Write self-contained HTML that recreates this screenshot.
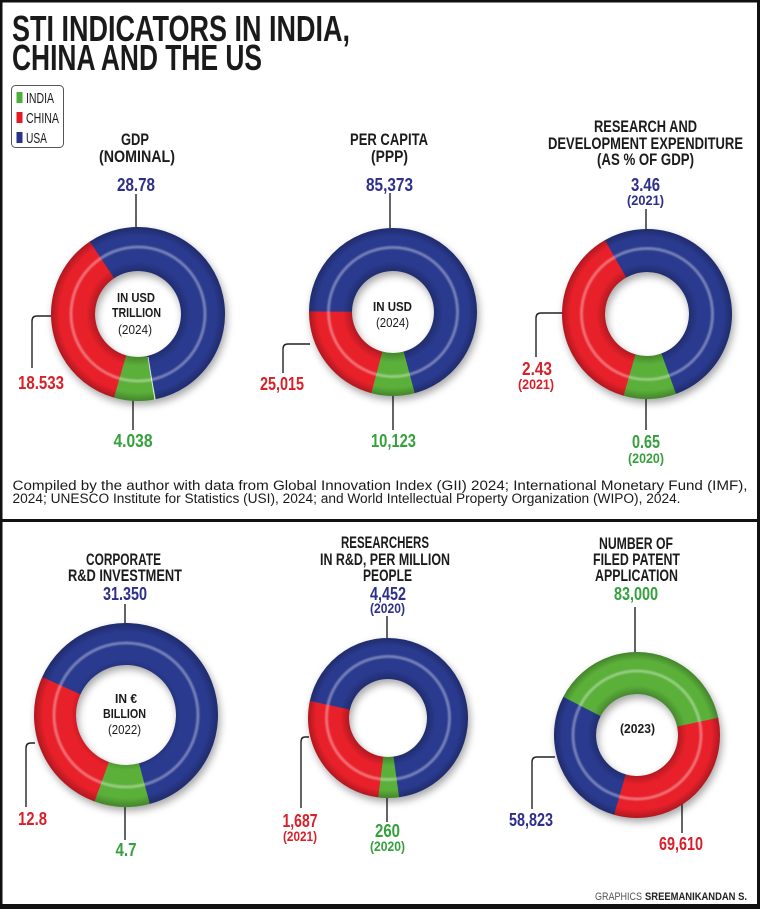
<!DOCTYPE html>
<html>
<head>
<meta charset="utf-8">
<style>
  html,body{margin:0;padding:0;background:#fff;}
  svg{display:block;}
  text{font-family:"Liberation Sans",Arial,sans-serif;}
  .t{font-weight:bold;font-size:16.5px;fill:#1b1b1b;}
  .v{font-weight:bold;font-size:18px;}
  .y{font-weight:bold;font-size:13.5px;}
  .b{fill:#2e2f8a;} .r{fill:#d91f28;} .g{fill:#35a03c;}
  .ln{fill:none;stroke:#222;stroke-width:1.4;}
</style>
</head>
<body>
<svg width="760" height="909" viewBox="0 0 760 909" xmlns="http://www.w3.org/2000/svg">
  <defs>
    <filter id="blur" x="-30%" y="-30%" width="160%" height="160%"><feGaussianBlur stdDeviation="4"/></filter>
    <filter id="hb" x="-10%" y="-10%" width="120%" height="120%"><feGaussianBlur stdDeviation="0.9"/></filter>
    <radialGradient id="shade" cx="0.5" cy="0.5" r="0.5">
      <stop offset="0.48" stop-color="#000" stop-opacity="0.25"/>
      <stop offset="0.60" stop-color="#000" stop-opacity="0"/>
      <stop offset="0.90" stop-color="#000" stop-opacity="0"/>
      <stop offset="1" stop-color="#000" stop-opacity="0.25"/>
    </radialGradient>
  </defs>

  <rect x="0" y="0" width="760" height="909" fill="#fff"/>

  <!-- Title -->
  <text x="12" y="41" font-size="36" font-weight="bold" fill="#1a1a1a" textLength="338" lengthAdjust="spacingAndGlyphs">STI INDICATORS IN INDIA,</text>
  <text x="12" y="70" font-size="36" font-weight="bold" fill="#1a1a1a" textLength="250" lengthAdjust="spacingAndGlyphs">CHINA AND THE US</text>

  <!-- Legend -->
  <rect x="11.5" y="85.5" width="52" height="62" rx="4" fill="#fff" stroke="#555" stroke-width="1"/>
  <rect x="16.5" y="92" width="6" height="11" fill="#4caf3a"/>
  <rect x="16.5" y="112" width="6" height="11" fill="#e31b23"/>
  <rect x="16.5" y="132" width="6" height="11" fill="#26348b"/>
  <text x="26" y="103" font-size="15" fill="#1a1a1a" textLength="28" lengthAdjust="spacingAndGlyphs">INDIA</text>
  <text x="26" y="123" font-size="15" fill="#1a1a1a" textLength="33" lengthAdjust="spacingAndGlyphs">CHINA</text>
  <text x="26" y="143" font-size="15" fill="#1a1a1a" textLength="21" lengthAdjust="spacingAndGlyphs">USA</text>

  <!-- Top titles -->
  <g text-anchor="middle">
    <text class="t" x="135" y="145" textLength="28" lengthAdjust="spacingAndGlyphs">GDP</text>
    <text class="t" x="137" y="162" textLength="76" lengthAdjust="spacingAndGlyphs">(NOMINAL)</text>
    <text class="t" x="389" y="145" textLength="78" lengthAdjust="spacingAndGlyphs">PER CAPITA</text>
    <text class="t" x="389.5" y="162" textLength="37" lengthAdjust="spacingAndGlyphs">(PPP)</text>
    <text class="t" x="645.5" y="132" textLength="103" lengthAdjust="spacingAndGlyphs">RESEARCH AND</text>
    <text class="t" x="645.5" y="149" textLength="195" lengthAdjust="spacingAndGlyphs">DEVELOPMENT EXPENDITURE</text>
    <text class="t" x="645.5" y="165" textLength="97" lengthAdjust="spacingAndGlyphs">(AS % OF GDP)</text>

    <!-- top values -->
    <text class="v b" x="136" y="191" textLength="38" lengthAdjust="spacingAndGlyphs">28.78</text>
    <text class="v b" x="389.5" y="191" textLength="47" lengthAdjust="spacingAndGlyphs">85,373</text>
    <text class="v b" x="645.5" y="191" textLength="29" lengthAdjust="spacingAndGlyphs">3.46</text>
    <text class="y b" x="645.5" y="205" textLength="37" lengthAdjust="spacingAndGlyphs">(2021)</text>

    <!-- left values -->
    <text class="v r" x="41" y="389" textLength="46" lengthAdjust="spacingAndGlyphs">18.533</text>
    <text class="v r" x="282" y="390" textLength="44" lengthAdjust="spacingAndGlyphs">25,015</text>
    <text class="v r" x="537" y="375" textLength="30" lengthAdjust="spacingAndGlyphs">2.43</text>
    <text class="y r" x="536" y="389" textLength="36" lengthAdjust="spacingAndGlyphs">(2021)</text>

    <!-- bottom values -->
    <text class="v g" x="133" y="447" textLength="39" lengthAdjust="spacingAndGlyphs">4.038</text>
    <text class="v g" x="393.5" y="447" textLength="45" lengthAdjust="spacingAndGlyphs">10,123</text>
    <text class="v g" x="646" y="448" textLength="28" lengthAdjust="spacingAndGlyphs">0.65</text>
    <text class="y g" x="646" y="463" textLength="36" lengthAdjust="spacingAndGlyphs">(2020)</text>
  </g>

  <!-- connectors top -->
  <path class="ln" d="M136,194 V227"/>
  <path class="ln" d="M390,193 V228"/>
  <path class="ln" d="M646,209 V230"/>
  <path class="ln" d="M51,316 H37 Q32,316 32,321 V368"/>
  <path class="ln" d="M310,344 H288 Q283,344 283,349 V373"/>
  <path class="ln" d="M563,313 H541 Q536,313 536,318 V357"/>
  <path class="ln" d="M133,400 V430"/>
  <path class="ln" d="M393,396 V430"/>
  <path class="ln" d="M646,398 V430"/>

  <!-- Donut 1 GDP -->
  <g>
    <circle cx="140" cy="318" r="65" fill="none" stroke="#000" stroke-opacity="0.35" stroke-width="44" filter="url(#blur)"/>
    <circle cx="138" cy="314" r="65" fill="none" stroke="#2a3a8f" stroke-width="44" pathLength="360" stroke-dasharray="202.5 360" transform="rotate(236 138 314)"/>
    <circle cx="138" cy="314" r="65" fill="none" stroke="#5bb03a" stroke-width="44" pathLength="360" stroke-dasharray="28.5 360" transform="rotate(78 138 314)"/>
    <circle cx="138" cy="314" r="65" fill="none" stroke="#e8202a" stroke-width="44" pathLength="360" stroke-dasharray="130.5 360" transform="rotate(106 138 314)"/>
    <path d="M51,314 a87,87 0 1,0 174,0 a87,87 0 1,0 -174,0Z M95,314 a43,43 0 1,0 86,0 a43,43 0 1,0 -86,0Z" fill="url(#shade)" fill-rule="evenodd"/>
    <circle cx="138" cy="314" r="67" fill="none" stroke="#fff" stroke-opacity="0.35" stroke-width="3" filter="url(#hb)"/>
    <line x1="148" y1="357" x2="155" y2="400" stroke="#fff" stroke-width="1" stroke-opacity="0.8"/>
    <g text-anchor="middle">
      <text x="136" y="302" font-size="13" font-weight="bold" fill="#1a1a1a" textLength="38" lengthAdjust="spacingAndGlyphs">IN USD</text>
      <text x="136.5" y="317" font-size="13" font-weight="bold" fill="#1a1a1a" textLength="49" lengthAdjust="spacingAndGlyphs">TRILLION</text>
      <text x="135" y="334" font-size="13" fill="#1a1a1a" textLength="34" lengthAdjust="spacingAndGlyphs">(2024)</text>
    </g>
  </g>

  <!-- Donut 2 Per capita -->
  <g>
    <circle cx="395" cy="316" r="62.5" fill="none" stroke="#000" stroke-opacity="0.35" stroke-width="43" filter="url(#blur)"/>
    <circle cx="393" cy="312" r="62.5" fill="none" stroke="#2a3a8f" stroke-width="43" pathLength="360" stroke-dasharray="255.5 360" transform="rotate(180 393 312)"/>
    <circle cx="393" cy="312" r="62.5" fill="none" stroke="#5bb03a" stroke-width="43" pathLength="360" stroke-dasharray="30.5 360" transform="rotate(75 393 312)"/>
    <circle cx="393" cy="312" r="62.5" fill="none" stroke="#e8202a" stroke-width="43" pathLength="360" stroke-dasharray="75.5 360" transform="rotate(105 393 312)"/>
    <path d="M309,312 a84,84 0 1,0 168,0 a84,84 0 1,0 -168,0Z M352,312 a41,41 0 1,0 82,0 a41,41 0 1,0 -82,0Z" fill="url(#shade)" fill-rule="evenodd"/>
    <circle cx="393" cy="312" r="64.5" fill="none" stroke="#fff" stroke-opacity="0.35" stroke-width="3" filter="url(#hb)"/>
    <g text-anchor="middle">
      <text x="392.5" y="311" font-size="13" font-weight="bold" fill="#1a1a1a" textLength="39" lengthAdjust="spacingAndGlyphs">IN USD</text>
      <text x="392.5" y="327" font-size="13" fill="#1a1a1a" textLength="33" lengthAdjust="spacingAndGlyphs">(2024)</text>
    </g>
  </g>

  <!-- Donut 3 R&D -->
  <g>
    <circle cx="649" cy="318" r="63.5" fill="none" stroke="#000" stroke-opacity="0.35" stroke-width="43" filter="url(#blur)"/>
    <circle cx="647" cy="314" r="63.5" fill="none" stroke="#2a3a8f" stroke-width="43" pathLength="360" stroke-dasharray="190.5 360" transform="rotate(240 647 314)"/>
    <circle cx="647" cy="314" r="63.5" fill="none" stroke="#5bb03a" stroke-width="43" pathLength="360" stroke-dasharray="36.5 360" transform="rotate(70 647 314)"/>
    <circle cx="647" cy="314" r="63.5" fill="none" stroke="#e8202a" stroke-width="43" pathLength="360" stroke-dasharray="134.5 360" transform="rotate(106 647 314)"/>
    <path d="M562,314 a85,85 0 1,0 170,0 a85,85 0 1,0 -170,0Z M605,314 a42,42 0 1,0 84,0 a42,42 0 1,0 -84,0Z" fill="url(#shade)" fill-rule="evenodd"/>
    <circle cx="647" cy="314" r="65.5" fill="none" stroke="#fff" stroke-opacity="0.35" stroke-width="3" filter="url(#hb)"/>
  </g>

  <!-- Footnote -->
  <text x="12.5" y="490" font-size="13.5" fill="#1a1a1a" textLength="735" lengthAdjust="spacingAndGlyphs">Compiled by the author with data from Global Innovation Index (GII) 2024; International Monetary Fund (IMF),</text>
  <text x="12.5" y="503" font-size="13.5" fill="#1a1a1a" textLength="668" lengthAdjust="spacingAndGlyphs">2024; UNESCO Institute for Statistics (USI), 2024; and World Intellectual Property Organization (WIPO), 2024.</text>

  <!-- Divider -->
  <rect x="0" y="519" width="760" height="3" fill="#111"/>

  <!-- Bottom titles -->
  <g text-anchor="middle">
    <text class="t" x="123.5" y="565" textLength="75" lengthAdjust="spacingAndGlyphs">CORPORATE</text>
    <text class="t" x="125" y="581" textLength="114" lengthAdjust="spacingAndGlyphs">R&amp;D INVESTMENT</text>
    <text class="t" x="385" y="548" textLength="88" lengthAdjust="spacingAndGlyphs">RESEARCHERS</text>
    <text class="t" x="385" y="565" textLength="130" lengthAdjust="spacingAndGlyphs">IN R&amp;D, PER MILLION</text>
    <text class="t" x="387.5" y="581" textLength="49" lengthAdjust="spacingAndGlyphs">PEOPLE</text>
    <text class="t" x="636" y="549" textLength="74" lengthAdjust="spacingAndGlyphs">NUMBER OF</text>
    <text class="t" x="636.5" y="565" textLength="87" lengthAdjust="spacingAndGlyphs">FILED PATENT</text>
    <text class="t" x="636.5" y="581" textLength="83" lengthAdjust="spacingAndGlyphs">APPLICATION</text>

    <text class="v b" x="125" y="600" textLength="44" lengthAdjust="spacingAndGlyphs">31.350</text>
    <text class="v b" x="388" y="600" textLength="36" lengthAdjust="spacingAndGlyphs">4,452</text>
    <text class="y b" x="387.5" y="613" textLength="35" lengthAdjust="spacingAndGlyphs">(2020)</text>
    <text class="v g" x="636" y="600" textLength="44" lengthAdjust="spacingAndGlyphs">83,000</text>

    <text class="v r" x="32.5" y="825" textLength="29" lengthAdjust="spacingAndGlyphs">12.8</text>
    <text class="v g" x="126" y="856" textLength="21" lengthAdjust="spacingAndGlyphs">4.7</text>
    <text class="v r" x="300" y="827" textLength="35" lengthAdjust="spacingAndGlyphs">1,687</text>
    <text class="y r" x="300" y="841" textLength="34" lengthAdjust="spacingAndGlyphs">(2021)</text>
    <text class="v g" x="387.5" y="837" textLength="25" lengthAdjust="spacingAndGlyphs">260</text>
    <text class="y g" x="387.5" y="851" textLength="35" lengthAdjust="spacingAndGlyphs">(2020)</text>
    <text class="v b" x="531" y="826" textLength="44" lengthAdjust="spacingAndGlyphs">58,823</text>
    <text class="v r" x="681" y="850" textLength="44" lengthAdjust="spacingAndGlyphs">69,610</text>
  </g>

  <!-- bottom connectors -->
  <path class="ln" d="M125,604 V623"/>
  <path class="ln" d="M387,616 V638"/>
  <path class="ln" d="M635,607 V652"/>
  <path class="ln" d="M35,743 H31 Q26,743 26,748 V807"/>
  <path class="ln" d="M309,737 H305 Q301,737 301,742 V808"/>
  <path class="ln" d="M555,757 H537 Q532,757 532,762 V809"/>
  <path class="ln" d="M125,807 V840"/>
  <path class="ln" d="M387,798 V822"/>
  <path class="ln" d="M682,803 V833"/>

  <!-- Donut 4 Corporate -->
  <g>
    <circle cx="128" cy="719" r="71" fill="none" stroke="#000" stroke-opacity="0.35" stroke-width="42" filter="url(#blur)"/>
    <circle cx="126" cy="715" r="71" fill="none" stroke="#2a3a8f" stroke-width="42" pathLength="360" stroke-dasharray="231.5 360" transform="rotate(204 126 715)"/>
    <circle cx="126" cy="715" r="71" fill="none" stroke="#5bb03a" stroke-width="42" pathLength="360" stroke-dasharray="35.5 360" transform="rotate(75 126 715)"/>
    <circle cx="126" cy="715" r="71" fill="none" stroke="#e8202a" stroke-width="42" pathLength="360" stroke-dasharray="94.5 360" transform="rotate(110 126 715)"/>
    <path d="M34,715 a92,92 0 1,0 184,0 a92,92 0 1,0 -184,0Z M76,715 a50,50 0 1,0 100,0 a50,50 0 1,0 -100,0Z" fill="url(#shade)" fill-rule="evenodd"/>
    <circle cx="126" cy="715" r="72" fill="none" stroke="#fff" stroke-opacity="0.35" stroke-width="3" filter="url(#hb)"/>
    <g text-anchor="middle">
      <text x="126" y="703" font-size="13" font-weight="bold" fill="#1a1a1a" textLength="22" lengthAdjust="spacingAndGlyphs">IN €</text>
      <text x="124.5" y="718" font-size="13" font-weight="bold" fill="#1a1a1a" textLength="43" lengthAdjust="spacingAndGlyphs">BILLION</text>
      <text x="124.5" y="734" font-size="13" fill="#1a1a1a" textLength="33" lengthAdjust="spacingAndGlyphs">(2022)</text>
    </g>
  </g>

  <!-- Donut 5 Researchers -->
  <g>
    <circle cx="390" cy="722" r="59.5" fill="none" stroke="#000" stroke-opacity="0.35" stroke-width="41" filter="url(#blur)"/>
    <circle cx="388" cy="718" r="59.5" fill="none" stroke="#2a3a8f" stroke-width="41" pathLength="360" stroke-dasharray="250.5 360" transform="rotate(192 388 718)"/>
    <circle cx="388" cy="718" r="59.5" fill="none" stroke="#5bb03a" stroke-width="41" pathLength="360" stroke-dasharray="15.5 360" transform="rotate(82 388 718)"/>
    <circle cx="388" cy="718" r="59.5" fill="none" stroke="#e8202a" stroke-width="41" pathLength="360" stroke-dasharray="95.5 360" transform="rotate(97 388 718)"/>
    <path d="M308,718 a80,80 0 1,0 160,0 a80,80 0 1,0 -160,0Z M349,718 a39,39 0 1,0 78,0 a39,39 0 1,0 -78,0Z" fill="url(#shade)" fill-rule="evenodd"/>
    <circle cx="388" cy="718" r="61.5" fill="none" stroke="#fff" stroke-opacity="0.35" stroke-width="3" filter="url(#hb)"/>
  </g>

  <!-- Donut 6 Patents -->
  <g>
    <circle cx="639" cy="739" r="62" fill="none" stroke="#000" stroke-opacity="0.35" stroke-width="42" filter="url(#blur)"/>
    <circle cx="637" cy="735" r="62" fill="none" stroke="#5bb03a" stroke-width="42" pathLength="360" stroke-dasharray="141.5 360" transform="rotate(207 637 735)"/>
    <circle cx="637" cy="735" r="62" fill="none" stroke="#e8202a" stroke-width="42" pathLength="360" stroke-dasharray="118.5 360" transform="rotate(-12 637 735)"/>
    <circle cx="637" cy="735" r="62" fill="none" stroke="#2a3a8f" stroke-width="42" pathLength="360" stroke-dasharray="101.5 360" transform="rotate(106 637 735)"/>
    <path d="M554,735 a83,83 0 1,0 166,0 a83,83 0 1,0 -166,0Z M596,735 a41,41 0 1,0 82,0 a41,41 0 1,0 -82,0Z" fill="url(#shade)" fill-rule="evenodd"/>
    <circle cx="637" cy="735" r="64" fill="none" stroke="#fff" stroke-opacity="0.35" stroke-width="3" filter="url(#hb)"/>
    <text x="637.5" y="733" text-anchor="middle" font-size="13" font-weight="bold" fill="#1a1a1a" textLength="35" lengthAdjust="spacingAndGlyphs">(2023)</text>
  </g>

  <!-- Credit -->
  <text x="595" y="900" font-size="11" fill="#555" textLength="47" lengthAdjust="spacingAndGlyphs">GRAPHICS</text>
  <text x="645" y="900" font-size="11" font-weight="bold" fill="#222" textLength="102" lengthAdjust="spacingAndGlyphs">SREEMANIKANDAN S.</text>

  <!-- Frame -->
  <rect x="0" y="0" width="760" height="2.5" fill="#111"/>
  <rect x="0" y="0" width="2.5" height="909" fill="#111"/>
  <rect x="757" y="0" width="3" height="909" fill="#111"/>
  <rect x="0" y="904" width="760" height="5" fill="#111"/>
</svg>
</body>
</html>
